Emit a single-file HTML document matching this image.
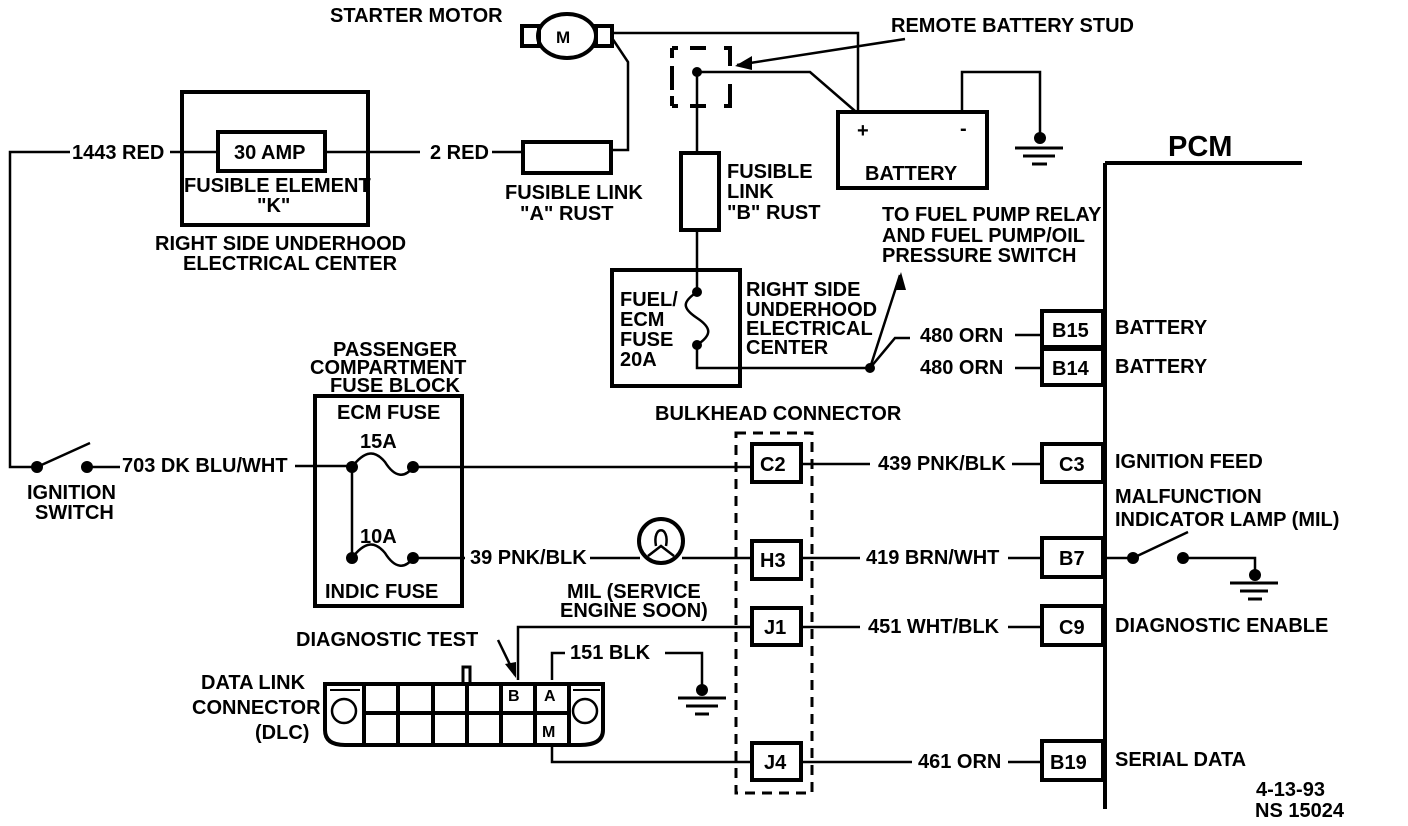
<!DOCTYPE html>
<html><head><meta charset="utf-8"><style>
html,body{margin:0;padding:0;background:#fff}
svg{display:block}
text{font-family:"Liberation Sans",Arial,sans-serif;font-weight:bold;font-size:20px;fill:#000}
</style></head><body>
<svg width="1408" height="826" viewBox="0 0 1408 826" xmlns="http://www.w3.org/2000/svg">
<g fill="none" stroke="#000" stroke-width="2.5">
<path d="M70 152 H10 V467 H37"/>
<path d="M170 152 H218"/><path d="M325 152 H420"/><path d="M492 152 H522"/>
<rect x="182" y="92" width="186" height="133" stroke-width="4"/>
<rect x="218" y="132" width="107" height="39" stroke-width="4"/>
<rect x="523" y="142" width="88" height="31" stroke-width="4"/>
<path d="M611 150 H628 V62 L612 38"/>
<ellipse cx="567" cy="36" rx="29" ry="22" stroke-width="4"/>
<rect x="522" y="26" width="17" height="20" stroke-width="4"/>
<rect x="596" y="26" width="16" height="20" stroke-width="4"/>
<path d="M612 33 H858 V112"/>
<path d="M672 48 V58 M672 66 V90 M672 96 V106 M672 48 H678 M672 106 H678 M690 48 H706 M690 106 H706 M724 48 H730 V66 M730 84 V106 H724" stroke-width="4"/>
<path d="M697 72 H810 L855 111"/>
<path d="M905 39 L737 65"/>
<path d="M697 72 V153"/>
<rect x="681" y="153" width="38" height="77" stroke-width="4"/>
<path d="M697 230 V290"/>
<rect x="838" y="112" width="149" height="76" stroke-width="4"/>
<path d="M962 112 V72 H1040 V138"/>
<path d="M1015 148 H1063 M1023 156 H1055 M1032 164 H1047" stroke-width="3"/>
<rect x="612" y="270" width="128" height="116" stroke-width="4"/>
<path d="M697 292 C682 302,682 308,697 318 C712 328,712 335,697 345"/>
<path d="M697 345 V368 H870"/>
<path d="M870 368 L900 275"/>
<path d="M870 368 L895 338 H910"/>
<path d="M1015 335 H1042 M1015 368 H1042"/>
<rect x="1042" y="311" width="61" height="36" stroke-width="4"/>
<rect x="1042" y="349" width="61" height="36" stroke-width="4"/>
<path d="M1105 163 H1302 M1105 163 V809" stroke-width="4"/>
<path d="M37 467 L90 443"/>
<path d="M87 467 H120"/>
<path d="M295 466 H352"/>
<rect x="315" y="396" width="147" height="210" stroke-width="4"/>
<path d="M352 467 C365 450,375 450,385 462 C395 478,405 478,413 467"/>
<path d="M352 467 V558"/>
<path d="M352 558 C365 541,375 541,385 553 C395 569,405 569,413 558"/>
<path d="M413 467 H752"/>
<path d="M413 558 H465"/>
<path d="M590 558 H640 M682 558 H752"/>
<rect x="736" y="433" width="76" height="360" stroke-width="3" stroke-dasharray="10,7"/>
<rect x="752" y="444" width="49" height="38" stroke-width="4"/>
<rect x="752" y="541" width="49" height="38" stroke-width="4"/>
<rect x="752" y="608" width="49" height="37" stroke-width="4"/>
<rect x="752" y="743" width="49" height="37" stroke-width="4"/>
<path d="M801 464 H870 M1012 464 H1042"/>
<rect x="1042" y="444" width="61" height="38" stroke-width="4"/>
<path d="M801 558 H860 M1008 558 H1042"/>
<rect x="1042" y="538" width="61" height="39" stroke-width="4"/>
<path d="M801 627 H860 M1008 627 H1042"/>
<rect x="1042" y="606" width="61" height="39" stroke-width="4"/>
<path d="M801 762 H912 M1008 762 H1042"/>
<rect x="1042" y="741" width="61" height="39" stroke-width="4"/>
<path d="M1105 558 H1133 L1188 532"/>
<path d="M1183 558 H1255 V575"/>
<path d="M1230 583 H1278 M1240 591 H1268 M1248 599 H1262" stroke-width="3"/>
<circle cx="661" cy="541" r="22" stroke-width="4"/>
<path d="M648 556 L661 546 L674 556 M656 546 C652 525,670 525,666 546"/>
<path d="M752 627 H518 V680"/>
<path d="M552 680 V653 H565 M665 653 H702 V690"/>
<path d="M678 698 H726 M686 706 H718 M695 714 H709" stroke-width="3"/>
<path d="M552 745 V762 H752"/>
<path d="M325 684 H603 V730 Q603 745 580 745 H345 Q325 745 325 730 Z" stroke-width="4"/>
<path d="M364 684 V745 M398 684 V745 M433 684 V745 M467 684 V745 M501 684 V745 M535 684 V745 M569 684 V745 M364 713 H569" stroke-width="4"/>
<path d="M463 684 V667 H470 V684" stroke-width="3"/>
<circle cx="344" cy="711" r="12"/><circle cx="585" cy="711" r="12"/>
<path d="M330 690 H360 M573 690 H600" stroke-width="2"/>
<path d="M498 640 L515 675"/>
</g>
<g fill="#000">
<circle cx="697" cy="72" r="5"/>
<circle cx="697" cy="292" r="5"/><circle cx="697" cy="345" r="5"/>
<circle cx="870" cy="368" r="5"/>
<circle cx="1040" cy="138" r="6"/>
<circle cx="37" cy="467" r="6"/><circle cx="87" cy="467" r="6"/>
<circle cx="352" cy="467" r="6"/><circle cx="413" cy="467" r="6"/>
<circle cx="352" cy="558" r="6"/><circle cx="413" cy="558" r="6"/>
<circle cx="1133" cy="558" r="6"/><circle cx="1183" cy="558" r="6"/>
<circle cx="1255" cy="575" r="6"/>
<circle cx="702" cy="690" r="6"/>
<polygon points="735,66 752,56 752,70"/>
<polygon points="901,272 895,290 906,290"/>
<polygon points="516,678 505,664 516,662"/>
</g>
<text x="330" y="22">STARTER MOTOR</text>
<text x="556" y="43" style="font-size:17px">M</text>
<text x="891" y="32">REMOTE BATTERY STUD</text>
<text x="72" y="159">1443 RED</text>
<text x="234" y="159">30 AMP</text>
<text x="184" y="192">FUSIBLE ELEMENT</text>
<text x="257" y="212">"K"</text>
<text x="155" y="250">RIGHT SIDE UNDERHOOD</text>
<text x="183" y="270">ELECTRICAL CENTER</text>
<text x="430" y="159">2 RED</text>
<text x="505" y="199">FUSIBLE LINK</text>
<text x="520" y="220">"A" RUST</text>
<text x="727" y="178">FUSIBLE</text>
<text x="727" y="198">LINK</text>
<text x="727" y="219">"B" RUST</text>
<text x="857" y="137" style="font-size:20px">+</text>
<text x="960" y="135">-</text>
<text x="865" y="180">BATTERY</text>
<text x="1168" y="156" style="font-size:29px">PCM</text>
<text x="882" y="221">TO FUEL PUMP RELAY</text>
<text x="882" y="242">AND FUEL PUMP/OIL</text>
<text x="882" y="262">PRESSURE SWITCH</text>
<text x="620" y="306">FUEL/</text>
<text x="620" y="326">ECM</text>
<text x="620" y="346">FUSE</text>
<text x="620" y="366">20A</text>
<text x="746" y="296">RIGHT SIDE</text>
<text x="746" y="316">UNDERHOOD</text>
<text x="746" y="335">ELECTRICAL</text>
<text x="746" y="354">CENTER</text>
<text x="920" y="342">480 ORN</text>
<text x="920" y="374">480 ORN</text>
<text x="1052" y="337">B15</text>
<text x="1052" y="375">B14</text>
<text x="1115" y="334">BATTERY</text>
<text x="1115" y="373">BATTERY</text>
<text x="333" y="356">PASSENGER</text>
<text x="310" y="374">COMPARTMENT</text>
<text x="330" y="392">FUSE BLOCK</text>
<text x="337" y="419">ECM FUSE</text>
<text x="360" y="448">15A</text>
<text x="360" y="543">10A</text>
<text x="325" y="598">INDIC FUSE</text>
<text x="655" y="420">BULKHEAD CONNECTOR</text>
<text x="122" y="472">703 DK BLU/WHT</text>
<text x="27" y="499">IGNITION</text>
<text x="35" y="519">SWITCH</text>
<text x="760" y="471">C2</text>
<text x="878" y="470">439 PNK/BLK</text>
<text x="1059" y="471">C3</text>
<text x="1115" y="468">IGNITION FEED</text>
<text x="1115" y="503">MALFUNCTION</text>
<text x="1115" y="526">INDICATOR LAMP (MIL)</text>
<text x="470" y="564">39 PNK/BLK</text>
<text x="760" y="567">H3</text>
<text x="866" y="564">419 BRN/WHT</text>
<text x="1059" y="565">B7</text>
<text x="567" y="598">MIL (SERVICE</text>
<text x="560" y="617">ENGINE SOON)</text>
<text x="764" y="634">J1</text>
<text x="868" y="633">451 WHT/BLK</text>
<text x="1059" y="634">C9</text>
<text x="1115" y="632">DIAGNOSTIC ENABLE</text>
<text x="296" y="646">DIAGNOSTIC TEST</text>
<text x="570" y="659">151 BLK</text>
<text x="508" y="701" style="font-size:16px">B</text>
<text x="544" y="701" style="font-size:16px">A</text>
<text x="542" y="737" style="font-size:16px">M</text>
<text x="201" y="689">DATA LINK</text>
<text x="192" y="714">CONNECTOR</text>
<text x="255" y="739">(DLC)</text>
<text x="764" y="769">J4</text>
<text x="918" y="768">461 ORN</text>
<text x="1050" y="769">B19</text>
<text x="1115" y="766">SERIAL DATA</text>
<text x="1256" y="796">4-13-93</text>
<text x="1255" y="817">NS 15024</text>
</svg>
</body></html>
